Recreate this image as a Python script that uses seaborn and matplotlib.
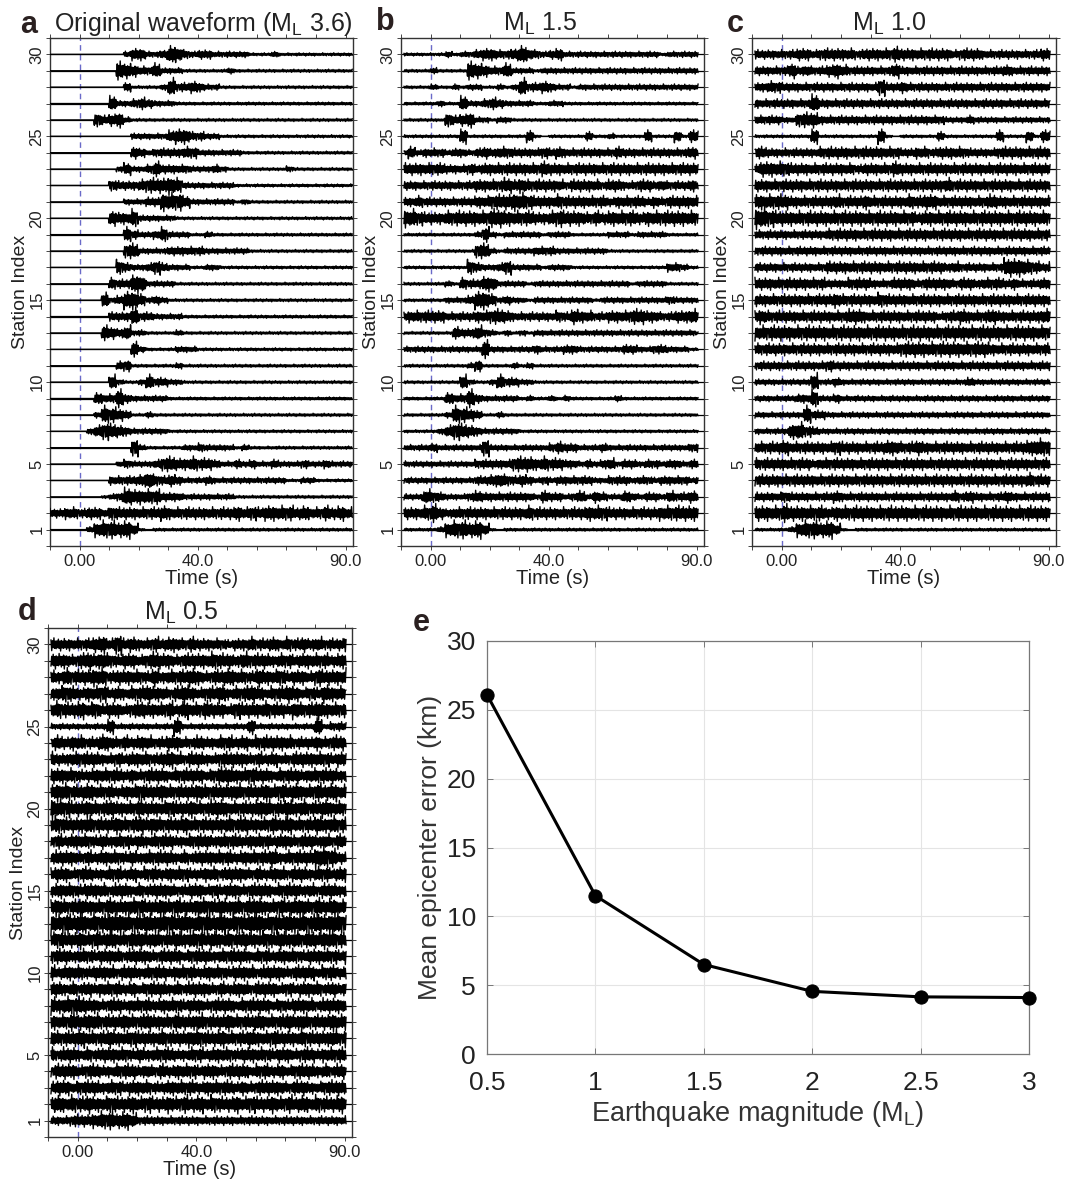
import matplotlib
matplotlib.use("Agg")
import matplotlib.pyplot as plt
import seaborn as sns
import pandas as pd
import numpy as np

# envelope half-height, one digit per 2.5 s from -10 s,
# one string per station from 30 down to 1 (unit = 0.1 station spacing)
env_a = [
    "0000000000 2442236532 3322222111 2111111111 1",
    "0000000006 5433522211 1111211111 1111111111 1",
    "0000000000 3111126334 3221111111 1111111111 1",
    "0000000052 2343222111 1111111111 1111111111 1",
    "0000005345 2111111111 1111111111 1111111111 1",
    "0000000000 0222224553 3221111111 1111111111 1",
    "0000000000 0432333344 2222221111 1111111111 1",
    "0000000002 4223533332 2232111111 1121111111 1",
    "0000000043 3345556522 2222211111 1111111111 1",
    "0000000000 2223366642 2222212111 1111111111 1",
    "0000000054 4622222111 1111111111 1111111111 1",
    "0000000000 5322352221 1211111111 1111111111 1",
    "0000000000 5522223333 3222222111 1111111111 1",
    "0000000005 3223532221 1221111111 1111111111 1",
    "0000000043 3662222111 1111111111 1111111111 1",
    "0000000523 6642321111 1111111111 1111111111 1",
    "0000000033 3633222211 1111111111 1111111111 1",
    "0000000543 5221111211 1111111111 1111111111 1",
    "0000000000 0521111222 1111111111 1111111111 1",
    "0000000003 4111111211 1111111111 1111111111 1",
    "0000000052 1125332211 1111111111 1111111111 1",
    "0000004336 3222221111 1111111111 1111111111 1",
    "0000002654 3112111111 1111111111 1111111111 1",
    "0000024654 3222221111 1111111111 1111111111 1",
    "0000000000 0621111122 3222212111 1111111111 1",
    "0000000002 3222355445 4432232322 3222322322 2",
    "0000000033 3346434322 2322222222 2211221111 1",
    "0000000123 6555533322 2222211111 1111111111 1",
    "3344344354 4444454444 4444454545 5554544545 4",
    "0000025665 6410111111 1111111111 1111111111 1",
]
env_b = [
    "1111112122 3443346432 3422222222 2222212222 2",
    "1111211116 5433522212 2222222222 2222222222 2",
    "1111211212 2112126334 3221222222 2222222222 2",
    "1111121152 2343222211 2211111111 1111111111 1",
    "1111115345 2212211111 1111111111 1111111111 1",
    "1111111151 1111111410 1111131121 1114111414 4",
    "2423332332 3434433334 3433333334 3333333334 3",
    "4444443334 3444444445 4444444444 4444444444 4",
    "3333333333 4444545444 4434444344 3344343334 3",
    "3343333333 4455566544 4544444434 4443434444 4",
    "6654445555 5566555544 5655545455 5545555555 5",
    "1111111111 2521222221 2221111122 2122221111 1",
    "1111111111 5521222233 3222222211 1111111111 1",
    "1111111115 3223522221 2221111111 1111113321 1",
    "1111112143 3552222122 2222222222 2122221111 1",
    "1111112223 6642322122 2222221222 2222223222 2",
    "3444443333 4455433333 3435443344 4554433445 4",
    "1111111433 5321212122 2222222222 2222222222 1",
    "2222222222 2622222232 2233222222 3322332221 1",
    "1111111112 4111121211 1111111111 1111111111 1",
    "1111111152 1125332211 1111111111 1111111111 1",
    "1111114336 3222221211 2121111112 1111111111 1",
    "1111112654 3112111111 1111111111 1111111111 1",
    "1111124654 3222221111 1111111111 1111111111 1",
    "2222322222 2622222222 3433222322 2222222223 3",
    "2222222222 3333355545 4433232342 3323323323 3",
    "2222222222 3345434323 2333332233 3233233332 3",
    "2225432223 4333333324 3323424322 4323324334 3",
    "4445643444 4444444544 4444455544 4444455555 5",
    "1111125665 6410111111 1111111111 1111111111 1",
]
env_c = [
    "3333334434 4444344445 4444444344 4333333334 4",
    "3333353433 4543333335 3333333333 3333433333 3",
    "3344333333 3333333633 4333333333 3333333333 3",
    "3333333363 3333333333 3333333333 3333333333 3",
    "3333225553 3333333333 3333332223 2222222222 2",
    "1111111151 1111111510 1111131111 1114111414 4",
    "4433333334 4444444444 3344344443 3334444444 4",
    "3555544444 4444344445 4444444444 4444444444 4",
    "4444444444 4444444444 4444445444 4444444444 4",
    "5555544444 4544454444 4545544444 4454444444 4",
    "7765555555 5555555555 5545555555 5555555555 5",
    "3333333333 4444444444 4444444444 4444444444 3",
    "3333333333 3333333333 3333333333 3333333333 3",
    "3333333333 4444444444 4444443433 3333666543 4",
    "4444444444 3334443334 4434444344 3444343334 3",
    "4444444444 4544444544 4444444444 4444444444 4",
    "4544444444 4445544444 4444434454 4454444445 5",
    "5555555555 5555555555 5555555555 5555555555 5",
    "4444444444 4444444444 5555555555 5544444444 4",
    "3333333333 4333333333 3333333333 3333333333 3",
    "2222222262 2322222222 2222222223 2222222222 2",
    "2222223362 2322222222 2222222222 2222222222 2",
    "2222222633 2222222222 2222222222 2222222222 2",
    "2222256432 2222222222 2222222222 2222222222 2",
    "4444544444 4544444455 4454444444 4444444566 5",
    "4444444434 4444444444 4444444444 4444444444 4",
    "4444444444 4444444444 4444444444 4444444544 4",
    "3333433333 3433333333 3333333434 3333433333 4",
    "5555655555 4555555555 5555555555 5555555555 5",
    "1111125665 6410111111 1111111111 1111111111 1",
]
env_d = [
    "4444445647 4544545545 4444344544 5454545444 6",
    "5554565654 5545655455 5565546555 4554555545 5",
    "5465556645 5554645556 5455655465 5645546555 6",
    "4565455645 4556554565 4556455654 5565454655 4",
    "5655656455 4565556465 5655465556 5546556555 5",
    "2222222252 2222222622 2222222522 2222226233 3",
    "4545544654 5455445544 5445545455 5554445455 4",
    "5445555445 4555456545 5445555454 5445555545 5",
    "5555445555 4545554555 5456655655 4555455554 5",
    "5665565554 5565565555 6555565556 5656556565 5",
    "7665565565 5565556556 5566555566 5565655655 5",
    "5655565556 5565655565 5555656555 6565556565 5",
    "4545554545 5454555445 5545554555 4554554545 4",
    "4555454555 4545555454 5555545555 6455557764 4",
    "4554554455 4545545554 4554555454 5545545545 5",
    "4555455545 5454555445 5454554555 4555454554 5",
    "5655655565 5665565655 6656565665 5656656565 5",
    "7676767677 7667677676 7767676776 7676767677 7",
    "5655656565 5665655656 6565656556 5656565665 5",
    "5554554555 4555455545 5545555455 4555455554 5",
    "5455545554 5545554555 4555455545 5545554554 5",
    "5545454555 4545554545 5545455455 5454555454 5",
    "6566655455 4555455545 5455545555 4545554555 5",
    "5556566555 6556555655 6555655565 5565655565 6",
    "6555655565 5655565556 6556555655 6555655565 6",
    "5455454555 5454555445 5455545555 4554554555 5",
    "4555455445 5545454555 4554555455 4545554545 4",
    "4554555455 4555445555 4555545455 5545544555 5",
    "5656565565 5656556565 6565565655 6565656556 5",
    "3334445665 6533333333 3333333333 3333333333 3",
]
# shape of the wiggle inside each envelope bin
wiggle = [0.55, -0.6, 0.5, -0.55, 0.7, -0.95, 0.55, -0.5, 1.0, -0.6, 0.5, -0.65, 0.55,
          -0.5, 0.8, -0.6, 0.5, -1.0, 0.6, -0.55, 0.5, -0.6, 0.9, -0.5, 0.55,
          -0.75, 0.5, -0.55, 0.7, -1.0, 0.55, -0.5, 0.6, -0.55, 0.5, -0.7, 0.55,
          -0.6, 0.5, -0.5, 1.0, -0.65, 0.6, -0.5, 0.55, -0.85, 0.5]

station_ticks = [1, 5, 10, 15, 20, 25, 30]
time_labels = {0: "0.00", 40: "40.0", 90: "90.0"}

magnitude = [0.5, 1, 1.5, 2, 2.5, 3]
mean_error = [26.1, 11.5, 6.5, 4.55, 4.15, 4.1]

W, H = 1073, 1182
sns.set_style("ticks")
plt.rcParams["font.family"] = ["Liberation Sans", "DejaVu Sans"]
plt.rcParams["mathtext.default"] = "regular"
fig = plt.figure(figsize=(W / 100, H / 100), dpi=100)


def px_axes(left, top, right, bottom):
    return fig.add_axes([left / W, 1 - bottom / H, (right - left) / W, (bottom - top) / H])


def trace_frame(env, start, end):
    rows = []
    for k, s in enumerate(env):
        station = 30 - k
        for i, ch in enumerate(s.replace(" ", "")):
            for j in range(10):
                t = -10 + 2.5 * i + 0.25 * j
                if t < start or t > end:
                    continue
                w = wiggle[(i * 10 + j + k * 7) % len(wiggle)]
                rows.append((station, t, station + int(ch) * 0.1 * w))
    return pd.DataFrame(rows, columns=["station", "time", "y"])


def waveform_panel(box, env, start, end):
    ax = px_axes(*box)
    ax.axvline(0, color="#6a6ac8", lw=1.0, ls=(0, (4, 3)), zorder=1)
    ax.hlines(range(1, 31), -10, 92.5, color="black", lw=0.9, zorder=2)
    sns.lineplot(data=trace_frame(env, start, end), x="time", y="y", units="station",
                 estimator=None, color="black", lw=1.0, ax=ax, zorder=3)
    ax.set_xlim(-10, 92.5)
    ax.set_ylim(0, 31)
    ax.set_xticks(range(-10, 100, 10))
    ax.set_xticklabels([time_labels.get(v, "") for v in range(-10, 100, 10)], fontsize=12, color="#222222")
    ax.set_yticks(range(0, 32))
    ax.set_yticklabels([str(v) if v in station_ticks else "" for v in range(0, 32)],
                       fontsize=12, rotation=90, va="center", color="#222222")
    ax.tick_params(axis="both", top=True, right=True, length=3, width=0.7, color="#444444")
    ax.tick_params(axis="x", pad=3)
    ax.tick_params(axis="y", pad=1)
    ax.set_xlabel("Time (s)", fontsize=14.5, labelpad=0, color="#222222")
    ax.set_ylabel("Station Index", fontsize=14, labelpad=0, color="#222222")
    for sp in ax.spines.values():
        sp.set_linewidth(1.0)
        sp.set_color("#333333")
    return ax


waveform_panel((50, 38, 353, 546), env_a, -10, 92.5)
waveform_panel((401, 38, 704, 546), env_b, -9, 90.5)
waveform_panel((752, 38, 1056, 546), env_c, -9, 90.5)
waveform_panel((48, 628, 352, 1137), env_d, -9, 90.5)

# panel e
ax = px_axes(487, 641, 1029, 1054)
sns.lineplot(x=magnitude, y=mean_error, color="black", lw=2.2, marker="o", markersize=9.5,
             markeredgecolor="black", ax=ax, zorder=3, clip_on=False)
ax.set_xlim(0.5, 3)
ax.set_ylim(0, 30)
ax.set_xticks(magnitude)
ax.set_xticklabels(["0.5", "1", "1.5", "2", "2.5", "3"])
ax.set_yticks(range(0, 35, 5))
ax.grid(True, color="#e4e4e4", lw=0.8)
ax.set_axisbelow(True)
ax.tick_params(axis="both", direction="in", top=True, right=True, length=4, width=0.6,
               color="#666666", labelsize=19, labelcolor="#222222")
ax.tick_params(axis="x", pad=12)
ax.tick_params(axis="y", pad=8)
ax.set_xlabel("Earthquake magnitude (M$_{L}$)", fontsize=19.5, color="#333333", labelpad=3)
ax.set_ylabel("Mean epicenter error (km)", fontsize=19, color="#333333", labelpad=3)
for sp in ax.spines.values():
    sp.set_linewidth(0.9)
    sp.set_color("#777777")

titles = [("Original waveform (M$_{L}$ 3.6)", 203, 24), ("M$_{L}$ 1.5", 540, 24),
          ("M$_{L}$ 1.0", 889, 24), ("M$_{L}$ 0.5", 181, 613)]
for txt, x, y in titles:
    fig.text(x / W, 1 - y / H, txt, fontsize=18, ha="center", va="center", color="#222222")

letters = [("a", 29, 25), ("b", 385, 22), ("c", 735, 24), ("d", 27, 612), ("e", 421, 623)]
for txt, x, y in letters:
    fig.text(x / W, 1 - y / H, txt, fontsize=22, fontweight="bold", ha="center", va="center", color="#2a2020")

fig.savefig("out.png", dpi=100)
